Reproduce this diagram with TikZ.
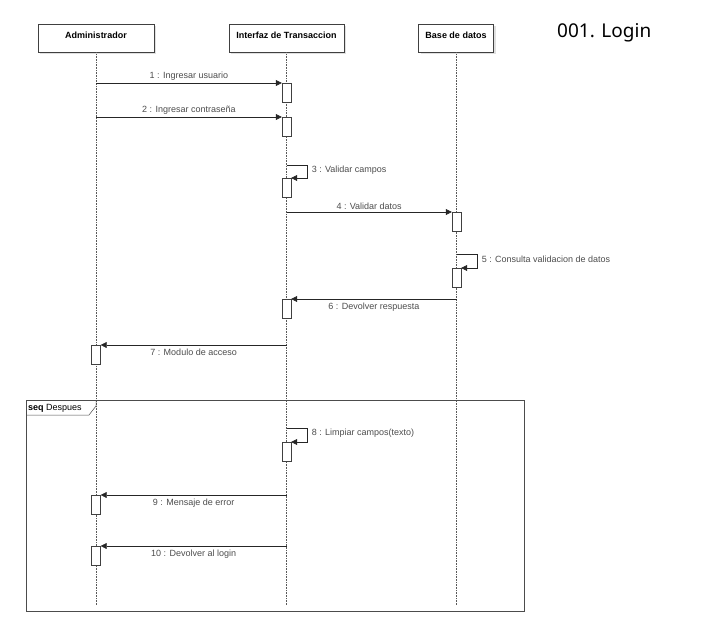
\documentclass[tikz,border=0pt]{standalone}
\usepackage{fontspec}
\setmainfont{Liberation Sans}
\newfontfamily\titlefont{Noto Sans}
\usetikzlibrary{arrows.meta,shadows}

\begin{document}
\begin{tikzpicture}[x=1pt,y=-1pt,font=\fontsize{9}{10}\selectfont,
	lifebox/.style={draw=black!75,fill=white,anchor=north,minimum height=28pt,inner sep=3pt,text height=11pt,text depth=11pt,font=\fontsize{9}{10}\selectfont\bfseries,drop shadow={shadow xshift=2pt,shadow yshift=-2pt,fill=black!12,opacity=1}},
	act/.style={draw=black!75,fill=white,anchor=north,minimum width=9pt,minimum height=19pt,inner sep=0pt},
	lifeline/.style={black!65,densely dotted,line width=0.6pt},
	msg/.style={draw=black!85,line width=0.6pt,-{Triangle[length=6pt,width=6pt]}},
	lbl/.style={text=black!70,inner sep=2pt},
	selflbl/.style={lbl,right,pos=0.2,xshift=2pt},
	framebox/.style={draw=black!70,line width=0.9pt}]
	\useasboundingbox (0,0) rectangle (720,638);
	% lifelines
	\node[lifebox,minimum width=116pt] (adm) at (96,24) {Administrador};
	\node[lifebox,minimum width=115pt] (itf) at (286.5,24) {Interfaz de Transaccion};
	\node[lifebox,minimum width=75pt] (bd) at (456,24) {Base de datos};
	\coordinate (admend) at (96,605);
	\coordinate (itfend) at (286.5,605);
	\coordinate (bdend) at (456,605);
	\draw[lifeline] (adm.south) -- (admend);
	\draw[lifeline] (itf.south) -- (itfend);
	\draw[lifeline] (bd.south) -- (bdend);
	\node[font=\titlefont\fontsize{19}{22}\selectfont,anchor=west,inner sep=0pt] (title) at (557,33) {001. Login};
	% messages
	\coordinate (m1) at (96,83);
	\node[act] (i1) at (286.5,83) {};
	\draw[msg] (m1) -- node[lbl,above] {1 : Ingresar usuario} (i1.north west);
	\coordinate (m2) at (96,117);
	\node[act] (i2) at (286.5,117) {};
	\draw[msg] (m2) -- node[lbl,above] {2 : Ingresar contraseña} (i2.north west);
	\coordinate (m3) at (286.5,165);
	\node[act] (i3) at (286.5,178) {};
	\draw[msg] (m3) -- ++(21,0) |- node[selflbl] {3 : Validar campos} (i3.north east);
	\coordinate (m4) at (286.5,212);
	\node[act] (b4) at (456.5,212) {};
	\draw[msg] (m4) -- node[lbl,above] {4 : Validar datos} (b4.north west);
	\coordinate (m5) at (456.5,254);
	\node[act] (b5) at (456.5,268) {};
	\draw[msg] (m5) -- ++(21,0) |- node[selflbl] {5 : Consulta validacion de datos} (b5.north east);
	\coordinate (m6) at (456.5,299);
	\node[act] (i6) at (286.5,299) {};
	\draw[msg] (m6) -- node[lbl,below=1.5pt] {6 : Devolver respuesta} (i6.north east);
	\coordinate (m7) at (286.5,345);
	\node[act] (a7) at (96,345) {};
	\draw[msg] (m7) -- node[lbl,below=1.5pt] {7 : Modulo de acceso} (a7.north east);
	% seq Despues
	\draw[framebox] (26,400) rectangle (524,611);
	\draw[framebox,line width=0.5pt] (26,415) -- (89,415) -- (96,406) -- (96,400);
	\node[anchor=west,inner sep=1pt] (seq) at (27,408) {\textbf{seq} Despues};
	\coordinate (m8) at (286.5,428);
	\node[act] (i8) at (286.5,442) {};
	\draw[msg] (m8) -- ++(21,0) |- node[selflbl] {8 : Limpiar campos(texto)} (i8.north east);
	\coordinate (m9) at (286.5,495);
	\node[act] (a9) at (96,495) {};
	\draw[msg] (m9) -- node[lbl,below=1.5pt] {9 : Mensaje de error} (a9.north east);
	\coordinate (m10) at (286.5,546);
	\node[act] (a10) at (96,546) {};
	\draw[msg] (m10) -- node[lbl,below=1.5pt] {10 : Devolver al login} (a10.north east);
\end{tikzpicture}
\end{document}
